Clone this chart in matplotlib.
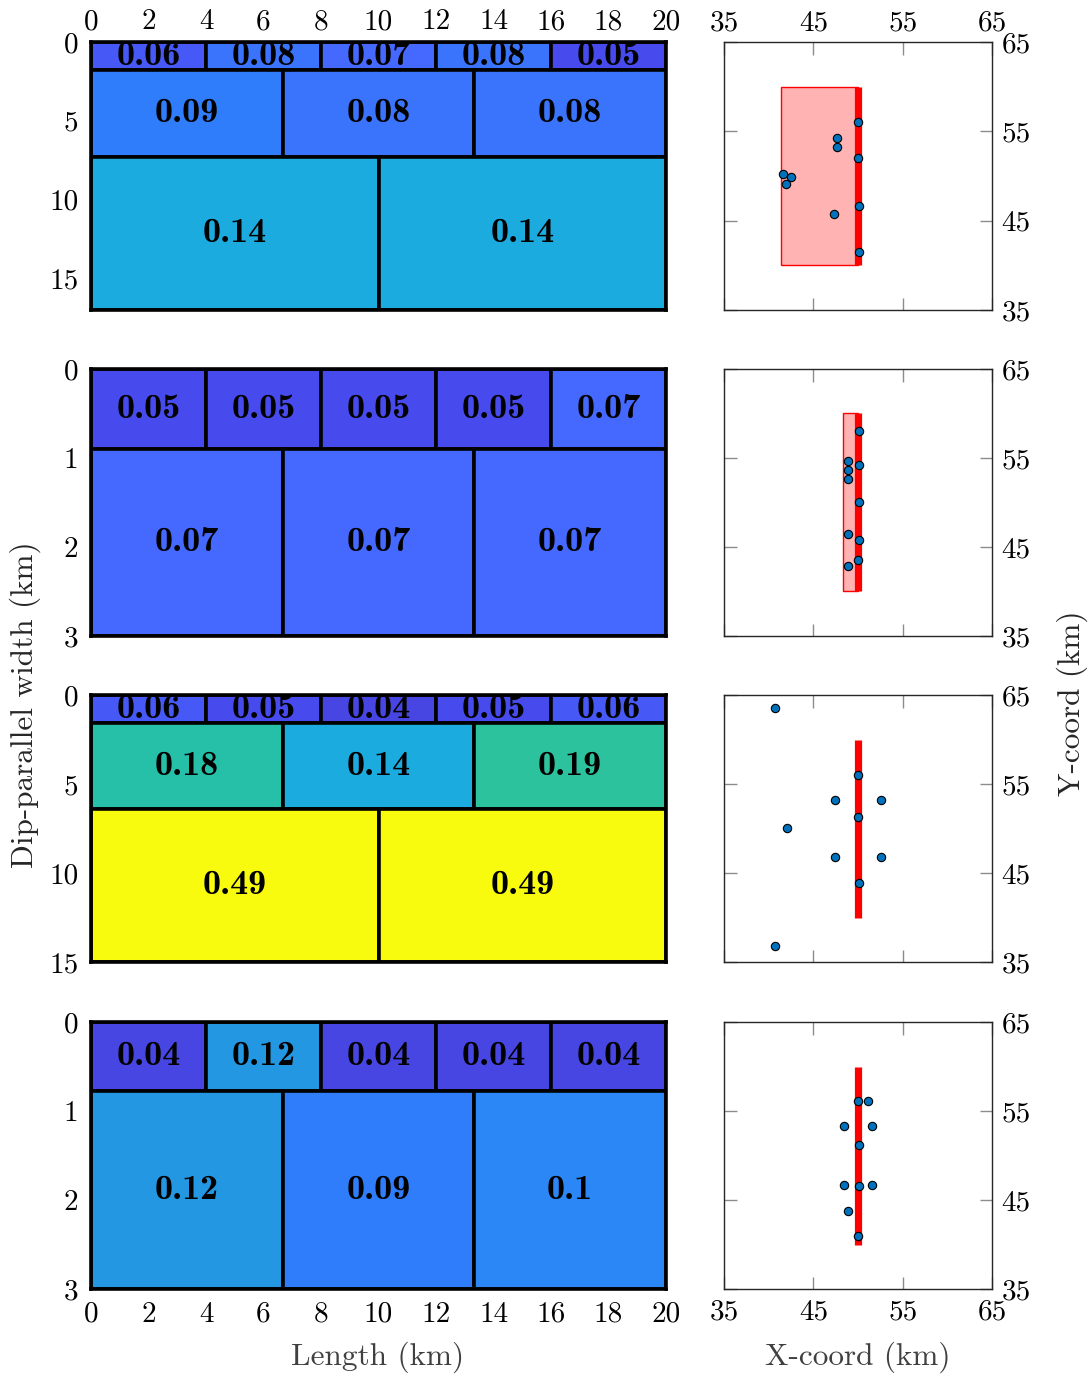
import matplotlib
matplotlib.use("Agg")
import matplotlib.pyplot as plt
from matplotlib.colors import LinearSegmentedColormap, Normalize
from matplotlib.patches import Rectangle

plt.rcParams["axes.formatter.use_mathtext"] = True

# ---- slip models: layer boundaries (km down-dip) and patch slip per layer ----
fault_length = 20.0
depths = [
    [0.0, 1.8, 7.3, 17.0],
    [0.0, 0.9, 3.0],
    [0.0, 1.6, 6.4, 15.0],
    [0.0, 0.78, 3.0],
]
slip = [
    [[0.06, 0.08, 0.07, 0.08, 0.05], [0.09, 0.08, 0.08], [0.14, 0.14]],
    [[0.05, 0.05, 0.05, 0.05, 0.07], [0.07, 0.07, 0.07]],
    [[0.06, 0.05, 0.04, 0.05, 0.06], [0.18, 0.14, 0.19], [0.49, 0.49]],
    [[0.04, 0.12, 0.04, 0.04, 0.04], [0.12, 0.09, 0.1]],
]
depth_ticks = [[0, 5, 10, 15], [0, 1, 2, 3], [0, 5, 10, 15], [0, 1, 2, 3]]
length_ticks = [0, 2, 4, 6, 8, 10, 12, 14, 16, 18, 20]

# ---- map view: fault trace, surface projection width, stations ----
trace_x = 50.0
trace_y = [40.0, 60.0]
projection_width = [8.6, 1.7, 0.0, 0.0]
stations_x = [
    [50.04, 47.65, 47.65, 50.0, 41.57, 42.54, 41.94, 50.08, 47.36, 50.12],
    [50.15, 48.85, 50.15, 48.92, 48.85, 50.15, 48.89, 50.15, 49.97, 48.85],
    [40.67, 49.97, 47.47, 52.55, 50.0, 42.06, 47.47, 52.6, 50.08, 40.75],
    [50.0, 51.09, 48.47, 51.57, 50.08, 48.47, 50.08, 51.57, 48.85, 49.97],
]
stations_y = [
    [56.08, 54.29, 53.28, 52.01, 50.25, 49.92, 49.13, 46.67, 45.7, 41.52],
    [58.0, 54.63, 54.21, 53.62, 52.6, 50.1, 46.43, 45.82, 43.54, 42.87],
    [63.54, 56.0, 53.16, 53.16, 51.33, 50.06, 46.8, 46.8, 43.91, 36.8],
    [56.16, 56.16, 53.35, 53.35, 51.22, 46.65, 46.53, 46.65, 43.8, 41.0],
]
map_ticks = [35, 45, 55, 65]

# parula-like colormap
cmap = LinearSegmentedColormap.from_list("parula_like", [
    (0.000, (0.2422, 0.1504, 0.6603)),
    (0.070, (0.282, 0.280, 0.900)),
    (0.115, (0.280, 0.295, 0.935)),
    (0.205, (0.270, 0.410, 1.000)),
    (0.295, (0.185, 0.490, 0.980)),
    (0.340, (0.170, 0.530, 0.960)),
    (0.430, (0.140, 0.590, 0.890)),
    (0.523, (0.110, 0.670, 0.870)),
    (0.705, (0.150, 0.750, 0.660)),
    (0.750, (0.160, 0.760, 0.630)),
    (0.850, (0.600, 0.780, 0.300)),
    (0.930, (0.970, 0.760, 0.220)),
    (1.000, (0.976, 0.983, 0.054)),
])
norm = Normalize(vmin=0.025, vmax=0.245, clip=True)

W, H = 1089, 1376
fig = plt.figure(figsize=(W / 100, H / 100), dpi=100)

rows_px = [(42, 310), (369, 636), (695, 962), (1022, 1289)]
left_px = (91, 666)
right_px = (724, 992)

def frac(x0, x1, y0, y1):
    return [x0 / W, 1 - y1 / H, (x1 - x0) / W, (y1 - y0) / H]

tick_font = dict(family="cmr10", size=21)
label_font = dict(family="cmb10", size=26)

for r in range(4):
    y0, y1 = rows_px[r]
    # ---- slip patches ----
    ax = fig.add_axes(frac(left_px[0], left_px[1], y0, y1))
    d = depths[r]
    for k, vals in enumerate(slip[r]):
        n = len(vals)
        w = fault_length / n
        top, bot = d[k], d[k + 1]
        for i, v in enumerate(vals):
            ax.add_patch(Rectangle((i * w, top), w, bot - top,
                                   facecolor=cmap(norm(v)), edgecolor="black",
                                   linewidth=2.6, zorder=2))
            ax.text(i * w + w / 2, (top + bot) / 2, f"{v:g}",
                    ha="center", va="center", zorder=3, clip_on=False,
                    **label_font)
    ax.set_xlim(0, fault_length)
    ax.set_ylim(d[-1], 0)
    ax.set_yticks(depth_ticks[r])
    ax.set_yticklabels([str(t) for t in depth_ticks[r]], **tick_font)
    ax.set_xticks(length_ticks)
    if r == 0:
        ax.xaxis.tick_top()
        ax.set_xticklabels([str(t) for t in length_ticks], **tick_font)
    elif r == 3:
        ax.set_xticklabels([str(t) for t in length_ticks], **tick_font)
    else:
        ax.set_xticklabels([])
    ax.tick_params(length=0)
    ax.tick_params(axis="y", pad=9)
    ax.tick_params(axis="x", pad=5 if r == 0 else 9)
    for s in ax.spines.values():
        s.set_linewidth(2.6)
        s.set_zorder(4)

    # ---- map view ----
    am = fig.add_axes(frac(right_px[0], right_px[1], y0, y1))
    pw = projection_width[r]
    if pw > 0:
        am.add_patch(Rectangle((trace_x - pw, trace_y[0]), pw,
                               trace_y[1] - trace_y[0],
                               facecolor=(1.0, 0.70, 0.70), edgecolor="red",
                               linewidth=1.0, zorder=2))
    am.plot([trace_x, trace_x], trace_y, color="red", linewidth=5.2,
            solid_capstyle="butt", zorder=3)
    am.scatter(stations_x[r], stations_y[r], s=36, color=(0.0, 0.447, 0.741),
               edgecolors="black", linewidths=0.8, zorder=4)
    am.set_xlim(35, 65)
    am.set_ylim(35, 65)
    am.set_xticks(map_ticks)
    am.set_yticks(map_ticks)
    am.yaxis.tick_right()
    am.set_yticklabels([str(t) for t in map_ticks], **tick_font)
    if r == 0:
        am.xaxis.tick_top()
        am.set_xticklabels([str(t) for t in map_ticks], **tick_font)
    elif r == 3:
        am.set_xticklabels([str(t) for t in map_ticks], **tick_font)
    else:
        am.set_xticklabels([])
    am.tick_params(direction="in", length=9, width=1.0, color="#8c8c8c",
                   top=True, bottom=True, left=True, right=True, pad=7)
    if r == 0:
        am.tick_params(axis="x", pad=4)
    for s in am.spines.values():
        s.set_linewidth(1.0)
        s.set_color("#262626")

axis_font = dict(family="cmr10", size=22.5)
fig.text(25 / W, 1 - 705 / H, "Dip-parallel width (km)", rotation=90,
         ha="center", va="center", color="#262626", **axis_font)
fig.text(1072 / W, 1 - 703 / H, "Y-coord (km)", rotation=90,
         ha="center", va="center", color="#262626", **axis_font)
fig.text(378 / W, 1 - 1357 / H, "Length (km)", ha="center", va="center",
         color="#404040", **axis_font)
fig.text(858 / W, 1 - 1357 / H, "X-coord (km)", ha="center", va="center",
         color="#404040", **axis_font)

fig.savefig("out.png", dpi=100)
